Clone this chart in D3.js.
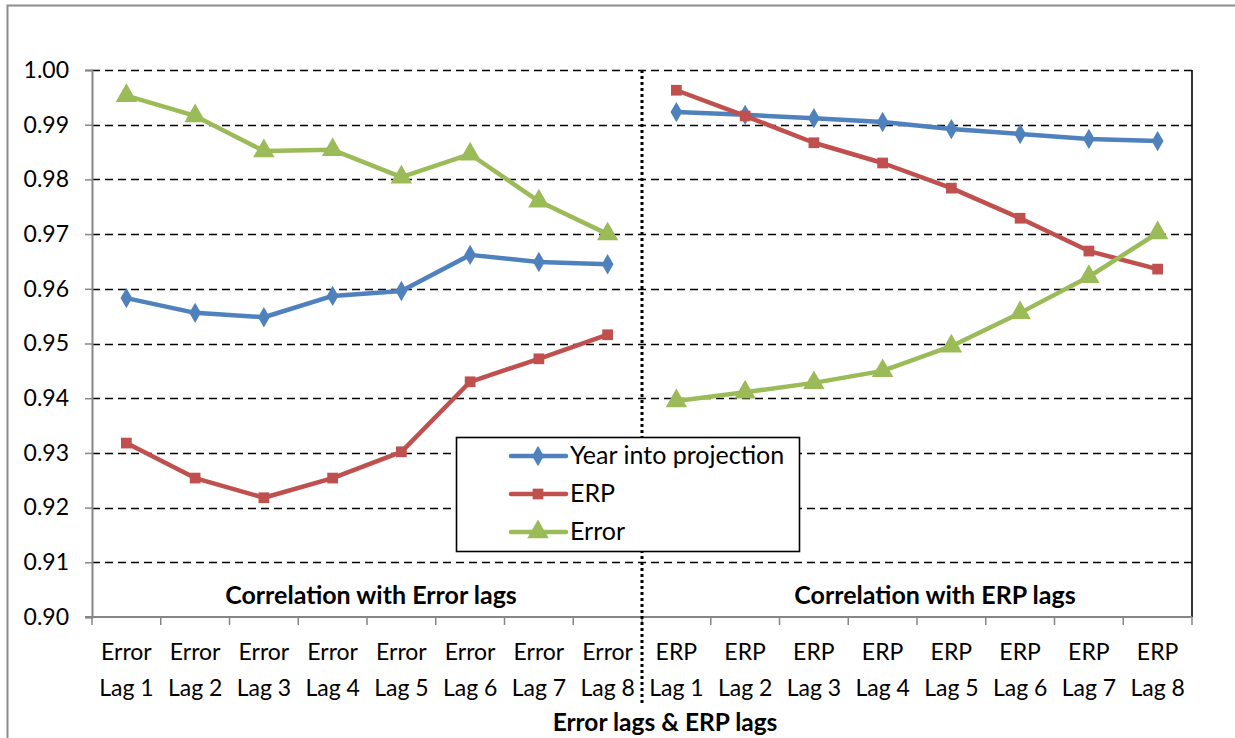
<!DOCTYPE html>
<html>
<head>
<meta charset="utf-8">
<script src="https://cdn.jsdelivr.net/npm/d3@7"></script>
<style>
  body { margin: 0; background: #fff; }
  svg { display: block; font-family: Lato, 'Open Sans', sans-serif; }
</style>
</head>
<body>
<div id="chart"></div>
<script>
// categories: two groups of eight lags
const groups = ['Error', 'ERP']
const lags = ['Lag 1', 'Lag 2', 'Lag 3', 'Lag 4', 'Lag 5', 'Lag 6', 'Lag 7', 'Lag 8']
const groupTitles = ['Correlation with Error lags', 'Correlation with ERP lags']
const seriesNames = ['Year into projection', 'ERP', 'Error']

// values, per series, Error lags then ERP lags
const yearErrorLags = [0.9583, 0.9556, 0.9548, 0.9587, 0.9596, 0.9662, 0.9649, 0.9645]
const yearErpLags = [0.9923, 0.9918, 0.9912, 0.9905, 0.9892, 0.9883, 0.9874, 0.9870]
const erpErrorLags = [0.9318, 0.9254, 0.9218, 0.9254, 0.9302, 0.9430, 0.9472, 0.9516]
const erpErpLags = [0.9963, 0.9916, 0.9867, 0.9830, 0.9784, 0.9729, 0.9669, 0.9636]
const errorErrorLags = [0.9953, 0.9916, 0.9852, 0.9854, 0.9804, 0.9846, 0.9760, 0.9700]
const errorErpLags = [0.9395, 0.9411, 0.9428, 0.9450, 0.9495, 0.9556, 0.9622, 0.9702]

const yTicks = [0.90, 0.91, 0.92, 0.93, 0.94, 0.95, 0.96, 0.97, 0.98, 0.99, 1.00]

const width = 1235, height = 738
const plot = { left: 92, right: 1192, top: 70, bottom: 617 }

const colors = ['#4F81BD', '#C0504D', '#9BBB59']
const shapes = [d3.symbolDiamond, d3.symbolSquare, d3.symbolTriangle]
const shapeSizes = [120, 115, 200]

const series = [
  [yearErrorLags, yearErpLags],
  [erpErrorLags, erpErpLags],
  [errorErrorLags, errorErpLags]
]

const categories = []
groups.forEach(g => lags.forEach(l => categories.push(g + ' ' + l)))

const xScale = d3.scaleBand()
  .domain(categories)
  .range([plot.left, plot.right])

const yScale = d3.scaleLinear()
  .domain([0.90, 1.00])
  .range([plot.bottom, plot.top])

const cx = c => xScale(c) + xScale.bandwidth() / 2

const svg = d3.select('#chart').append('svg')
  .attr('width', width)
  .attr('height', height)

// outer chart frame
svg.append('path')
  .attr('d', 'M7.5,' + height + 'V5.5H' + width)
  .attr('fill', 'none')
  .attr('stroke', '#8c8c8c')
  .attr('stroke-width', 2)

// gridlines
svg.append('g').classed('grid', true)
  .selectAll('line')
  .data(yTicks.slice(1)).enter()
  .append('line')
  .attr('x1', plot.left).attr('x2', plot.right)
  .attr('y1', d => Math.round(yScale(d)) + 0.5)
  .attr('y2', d => Math.round(yScale(d)) + 0.5)
  .attr('stroke', '#000')
  .attr('stroke-width', 1.6)
  .attr('stroke-dasharray', '8,5')

// right border of the plot
svg.append('line')
  .attr('x1', plot.right).attr('x2', plot.right)
  .attr('y1', plot.top).attr('y2', plot.bottom)
  .attr('stroke', '#000')
  .attr('stroke-width', 1.6)

// y axis
const yAxis = d3.axisLeft(yScale)
  .tickValues(yTicks)
  .tickFormat(d3.format('.2f'))
  .tickSize(7)
  .tickPadding(16)
const yg = svg.append('g').classed('y-axis', true)
  .attr('transform', 'translate(' + plot.left + ', 0)')
  .call(yAxis)
yg.select('.domain').attr('stroke', '#868686').attr('stroke-width', 2)
yg.selectAll('.tick line').attr('stroke', '#868686').attr('stroke-width', 1.5)
yg.selectAll('.tick text')
  .attr('fill', '#000')
  .style('font-size', '23px')
  .style('font-family', 'Lato, sans-serif')

// x axis line with ticks on band edges
const xg = svg.append('g').classed('x-axis', true)
xg.append('line')
  .attr('x1', plot.left - 7).attr('x2', plot.right)
  .attr('y1', plot.bottom).attr('y2', plot.bottom)
  .attr('stroke', '#868686').attr('stroke-width', 2)
xg.selectAll('line.tick')
  .data(categories.concat(['end'])).enter()
  .append('line').classed('tick', true)
  .attr('x1', (d, i) => i < categories.length ? xScale(d) : plot.right)
  .attr('x2', (d, i) => i < categories.length ? xScale(d) : plot.right)
  .attr('y1', plot.bottom).attr('y2', plot.bottom + 8)
  .attr('stroke', '#868686').attr('stroke-width', 1.5)

const catLabels = xg.selectAll('text.cat')
  .data(categories).enter()
  .append('text').classed('cat', true)
  .attr('text-anchor', 'middle')
  .style('font-size', '23px')
catLabels.append('tspan')
  .attr('x', d => cx(d)).attr('y', 660)
  .text(d => d.split(' ')[0])
catLabels.append('tspan')
  .attr('x', d => cx(d)).attr('y', 696)
  .text(d => d.split(' ').slice(1).join(' '))

// axis title
svg.append('text')
  .attr('x', 665).attr('y', 731)
  .attr('text-anchor', 'middle')
  .style('font-size', '24.5px')
  .style('font-weight', 'bold')
  .text('Error lags & ERP lags')

// group titles
svg.selectAll('text.group-title')
  .data(groupTitles).enter()
  .append('text').classed('group-title', true)
  .attr('x', (d, i) => i === 0 ? 371 : 935)
  .attr('y', 604)
  .attr('text-anchor', 'middle')
  .style('font-size', '25px')
  .style('font-weight', 'bold')
  .text(d => d)

// dotted divider between the two groups
const divX = xScale(groups[1] + ' ' + lags[0])
svg.append('line')
  .attr('x1', divX).attr('x2', divX)
  .attr('y1', plot.top).attr('y2', 706)
  .attr('stroke', '#000')
  .attr('stroke-width', 3)
  .attr('stroke-dasharray', '3,3')

// series lines and markers
const line = d3.line()
  .x(d => cx(d.cat))
  .y(d => yScale(d.value))

series.forEach((s, si) => {
  const g = svg.append('g').classed('series', true)
  s.forEach((vals, gi) => {
    const pts = vals.map((v, li) => ({ cat: groups[gi] + ' ' + lags[li], value: v }))
    g.append('path')
      .attr('d', line(pts))
      .attr('fill', 'none')
      .attr('stroke', colors[si])
      .attr('stroke-width', 4.5)
      .attr('stroke-linejoin', 'round')
    g.selectAll(null)
      .data(pts).enter()
      .append('path')
      .attr('transform', d => 'translate(' + cx(d.cat) + ', ' + yScale(d.value) + ')')
      .attr('d', d3.symbol().type(shapes[si]).size(shapeSizes[si]))
      .attr('fill', colors[si])
  })
})

// legend
const legend = svg.append('g').classed('legend', true)
  .attr('transform', 'translate(456, 437)')
legend.append('rect')
  .attr('x', 0.5).attr('y', 0.5)
  .attr('width', 343).attr('height', 114)
  .attr('fill', '#fff')
  .attr('stroke', '#000')
  .attr('stroke-width', 1.6)
const items = legend.selectAll('g.item')
  .data(seriesNames).enter()
  .append('g').classed('item', true)
  .attr('transform', (d, i) => 'translate(0, ' + (19 + i * 38) + ')')
items.append('line')
  .attr('x1', 55).attr('x2', 110)
  .attr('stroke', (d, i) => colors[i])
  .attr('stroke-width', 4.5)
  .attr('stroke-linecap', 'round')
items.append('path')
  .attr('transform', 'translate(82, 0)')
  .attr('d', (d, i) => d3.symbol().type(shapes[i]).size(shapeSizes[i])())
  .attr('fill', (d, i) => colors[i])
items.append('text')
  .attr('x', 114).attr('y', 8)
  .style('font-size', '25px')
  .text(d => d)
</script>
</body>
</html>
